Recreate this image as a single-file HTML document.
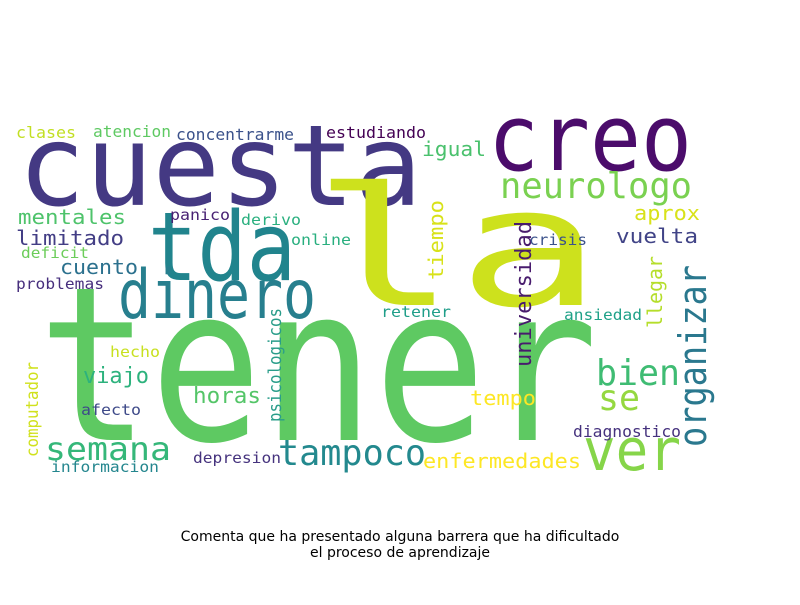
<!DOCTYPE html>
<html><head><meta charset="utf-8"><style>
body{margin:0;background:#fff;width:800px;height:600px;overflow:hidden}
svg text{font-family:"DejaVu Sans Mono","Liberation Mono",monospace}
.t{font-family:"DejaVu Sans","Liberation Sans",sans-serif;font-size:14px;fill:#000}
</style></head><body>
<svg width="800" height="600">
<g id="cloud"></g>
<text class="t" x="400" y="541" text-anchor="middle">Comenta que ha presentado alguna barrera que ha dificultado</text>
<text class="t" x="400" y="557" text-anchor="middle">el proceso de aprendizaje</text>
</svg>
<script>
const words=["tener","cuesta","la","creo","tda","dinero","neurologo","organizar","universidad","tiempo","llegar","psicologicos","computador","semana","tampoco","ver","bien","se","enfermedades","tempo","diagnostico","ansiedad","crisis","vuelta","aprox","igual","estudiando","concentrarme","atencion","clases","mentales","limitado","deficit","cuento","problemas","panico","derivo","online","retener","hecho","viajo","horas","afecto","depresion","informacion"];
const sizes=[215,112,165,92,95,68,36,38,22,20,20,18,17,32,36,58,36,36,20,20,16,15,15,20,20,20,16,16,16,16,20,20,15,20,15,15,15,15,15,15,22,22,15,15,15];
const colors=["#5ec962","#443983","#cde11d","#4b0c6b","#21848d","#277f8e","#7ad151","#2a788e","#481b6d","#d8e219","#b5de2b","#2a9d8a","#d0e11c","#35b779","#23898e","#86d549","#3fbc73","#95d840","#fde725","#fde725","#46327e","#1fa188","#3b528b","#414487","#d8e219","#4ac16d","#440154","#3b528b","#5ec962","#c2df23","#4ec36b","#433e85","#6ccd5a","#2c718e","#472f7d","#482173","#2ab07f","#29af7f","#1f9e89","#c8e020","#2db27d","#54c568","#3e4a89","#46337e","#24868e"];
const xs=[38,18,312,488,148,118,500,0,0,0,0,0,0,45,278,583,596,598,423,470,573,564,529,616,634,422,326,176,93,16,18,16,21,60,16,170,241,291,381,110,83,193,81,193,51];
const ys=[440,205,305,170,280,318,198,0,0,0,0,0,0,460,465,470,385,410,468,405,437,320,245,243,220,156,138,140,137,138,224,245,258,274,289,220,225,245,317,357,383,403,415,463,472];
const widths=[560,404,290,204,148,198,192,0,0,0,0,0,0,126,148,98,84,42,158,66,108,78,58,82,66,64,100,118,78,60,108,108,68,78,88,60,60,60,70,50,66,68,60,88,108];
// vertical words: [index, baselineX, bottomY, length]
const vert=[[7,706,447,182],[8,531,367,146],[9,443,280,80],[10,662,328,72],[11,281,422,114],[12,38,457,95]];
const g=document.getElementById('cloud');
const NS='http://www.w3.org/2000/svg';
words.forEach((w,i)=>{
  const t=document.createElementNS(NS,'text');
  t.textContent=w;
  t.setAttribute('font-size',sizes[i]);
  t.setAttribute('fill',colors[i]);
  const v=vert.find(a=>a[0]===i);
  if(v){
    t.setAttribute('transform',`translate(${v[1]},${v[2]}) rotate(-90)`);
    t.setAttribute('textLength',v[3]);
  } else {
    t.setAttribute('x',xs[i]);t.setAttribute('y',ys[i]);
    t.setAttribute('textLength',widths[i]);
  }
  t.setAttribute('lengthAdjust','spacingAndGlyphs');
  
  
  g.appendChild(t);
});
</script>
</body></html>
